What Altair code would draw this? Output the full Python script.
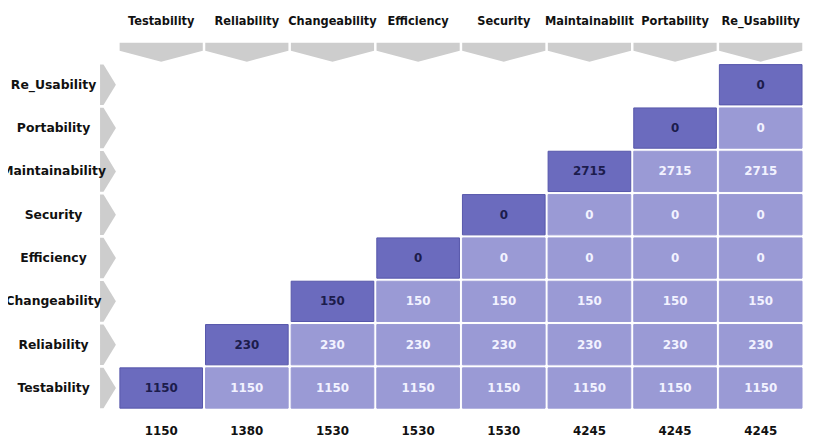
import altair as alt
import pandas as pd

categories = ["Testability", "Reliability", "Changeability", "Efficiency",
              "Security", "Maintainability", "Portability", "Re_Usability"]
row_values = [1150, 230, 150, 0, 0, 2715, 0, 0]
col_totals = [1150, 1380, 1530, 1530, 1530, 4245, 4245, 4245]

cells = []
for i, c in enumerate(categories):
    for j in range(i + 1):
        cells.append({"col": c, "row": categories[j], "value": row_values[j],
                      "diag": "d" if i == j else "o"})
cells_df = pd.DataFrame(cells)
cols_df = pd.DataFrame({"col": categories, "total": [str(t) for t in col_totals]})
rows_df = pd.DataFrame({"row": categories})

W, H = 689, 347
FONT = "DejaVu Sans"

xs = alt.Scale(domain=categories, paddingInner=0.035, paddingOuter=0)
ys = alt.Scale(domain=categories[::-1], paddingInner=0.07, paddingOuter=0)

X = alt.X("col:N", scale=xs, axis=None)
Y = alt.Y("row:N", scale=ys, axis=None)

rects = alt.Chart(cells_df).mark_rect(strokeWidth=1).encode(
    x=X, y=Y,
    fill=alt.Fill("diag:N", scale=alt.Scale(domain=["d", "o"], range=["#6b6bbe", "#9a9ad5"]), legend=None),
    stroke=alt.Stroke("diag:N", scale=alt.Scale(domain=["d", "o"], range=["#5656aa", "#9a9ad5"]), legend=None),
)
cell_text = alt.Chart(cells_df).mark_text(font=FONT, fontWeight="bold", fontSize=12).encode(
    x=X, y=Y, text="value:Q",
    color=alt.Color("diag:N", scale=alt.Scale(domain=["d", "o"], range=["#1c1c4c", "#f2f2ff"]), legend=None),
)

chev_top = "M-1,-0.214 L1,-0.214 L1,-0.024 L0,0.238 L-1,-0.024 Z"
head_chev = alt.Chart(cols_df).mark_point(shape=chev_top, filled=True, size=84 * 84,
                                          color="#cdcdcd", opacity=1).encode(
    x=X, y=alt.value(-13))
head_text = alt.Chart(cols_df).mark_text(font=FONT, fontWeight="bold", fontSize=11.5,
                                         color="#111111", limit=96, ellipsis="\u200b").encode(
    x=X, y=alt.value(-43), text="col:N")

chev_side = "M-0.39,-1 L-0.22,-1 L0.39,0 L-0.22,1 L-0.39,1 Z"
row_chev = alt.Chart(rows_df).mark_point(shape=chev_side, filled=True, size=41 * 41,
                                         color="#cdcdcd", opacity=1).encode(
    x=alt.value(-12), y=Y)
row_text = alt.Chart(rows_df).mark_text(font=FONT, fontWeight="bold", fontSize=12.5,
                                        color="#111111").encode(
    x=alt.value(-67), y=Y, text="row:N")

tot_text = alt.Chart(cols_df).mark_text(font=FONT, fontWeight="bold", fontSize=12,
                                        color="#111111").encode(
    x=X, y=alt.value(370), text="total:N")

chart = alt.layer(head_chev, row_chev, rects, cell_text, head_text, row_text, tot_text).properties(
    width=W, height=H,
    autosize=alt.AutoSizeParams(type="none"),
    padding={"left": 113, "top": 55, "right": 3, "bottom": 30},
).configure_view(stroke=None)

chart.save("out.html", embed_options={"renderer": "svg", "actions": False})
